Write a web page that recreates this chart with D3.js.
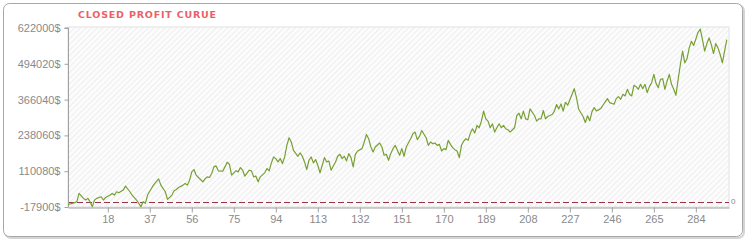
<!DOCTYPE html>
<html>
<head>
<meta charset="utf-8">
<script src="https://cdn.jsdelivr.net/npm/d3@7"></script>
<style>
  body { margin: 0; background: #fff; }
  svg { display: block; }
</style>
</head>
<body>
<div id="chart"></div>
<script>
// trade numbers and closed profit
const tradeNo = [0,2,4,5,7,8,9,10,11,12,13,15,16,17,19,20,21,22,23,25,26,28,29,31,32,33,34,35,36,38,39,41,42,44,45,47,48,49,50,52,53,54,55,56,57,58,59,61,62,63,64,65,66,67,68,70,71,72,73,74,
  76,77,78,79,80,82,83,84,85,86,87,89,90,91,92,93,94,95,96,97,98,99,100,101,102,104,105,106,107,108,109,110,111,112,113,114,115,116,117,118,119,121,122,123,124,125,126,127,128,129,130,131,133,134,135,136,137,138,139,141,142,143,144,145,146,147,148,149,
  150,151,152,153,155,156,157,158,159,160,162,163,164,165,166,167,168,169,170,171,172,173,174,175,176,177,178,179,180,181,182,183,184,185,186,187,188,189,190,191,192,193,194,195,196,197,198,199,200,202,203,204,205,206,207,208,209,211,212,213,214,215,216,217,219,220,221,222,223,224,225,
  226,227,228,229,230,231,233,234,235,236,237,238,239,240,241,242,243,244,245,247,248,249,250,251,252,253,254,255,256,257,258,259,260,261,262,263,264,265,266,267,268,269,270,271,272,273,274,275,276,277,278,279,280,281,282,283,284,285,286,287,288,289,290,291,292,293,294,295,296,297,298];

const closedProfit = [-9000,-4900,1000,30700,12900,7000,12900,1000,-16700,7000,12900,18800,7000,16000,24800,30700,24800,36600,33000,42500,56800,36600,24800,7000,-4900,-16700,1000,-4900,24800,52000,63900,82800,60300,36600,9400,24800,40200,44900,52000,60300,66200,60300,78100,107700,116000,95900,87600,72200,83000,89900,87600,101800,125500,129000,111300,110100,125500,142100,135000,95900,
  112000,107700,123100,113600,92300,113600,111300,89900,92300,72100,89900,104200,119600,111300,139700,161000,155100,143300,155100,137300,161000,202500,229800,214400,184700,163400,175300,163400,143300,116000,149200,161000,139700,151600,131400,104200,131400,158700,143300,146800,113600,143300,163400,170500,155100,163400,146800,172900,158700,125500,170500,182400,190700,214400,241600,226200,196600,178800,196600,210800,196600,167000,170500,149200,172900,190700,202500,184700,
  167000,190700,163400,196600,226200,244000,249900,222700,234500,255800,229800,202500,214400,208400,210800,202500,206100,182400,190700,187100,220300,206100,194200,187100,182400,158700,202500,217900,226200,220300,246400,261800,246400,273600,265300,289000,324600,297300,289000,265300,279500,250000,265300,279500,265300,273600,261800,258200,250000,265300,309200,317500,297300,324600,297300,293800,332900,309200,289000,297300,297300,327000,297300,305600,312700,324600,348300,332900,350600,324600,356600,
  346000,364900,385000,405100,373100,331700,305600,284300,308000,290200,322200,337600,325700,329300,334000,345900,357700,369600,355400,349400,369600,376700,367200,385000,379100,402800,385000,379100,417000,412300,402800,420600,405100,420600,390900,412300,426500,456100,424100,408700,438300,440700,402800,432400,456100,420600,402800,381500,438300,491600,539100,497600,511800,550900,574600,559200,582900,606600,618400,580500,539100,566300,586500,562700,530800,566300,550900,527200,497600,539100,580500];

const yTicks = [-17900, 110080, 238060, 366040, 494020, 622000];
const xTicks = [18, 37, 56, 75, 94, 113, 132, 151, 170, 189, 208, 227, 246, 265, 284];

const width = 748, height = 241;
const plotLeft = 68, plotRight = 729, plotTop = 28, plotBottom = 207;

const svg = d3.select('#chart')
  .append('svg')
  .attr('width', width)
  .attr('height', height);

// hatch pattern for the plot background
const defs = svg.append('defs');
const pat = defs.append('pattern')
  .attr('id', 'hatch')
  .attr('patternUnits', 'userSpaceOnUse')
  .attr('width', 4)
  .attr('height', 4)
  .attr('patternTransform', 'rotate(45)');
pat.append('rect').attr('width', 4).attr('height', 4).attr('fill', '#fcfcfc');
pat.append('line')
  .attr('x1', 0).attr('y1', 0).attr('x2', 0).attr('y2', 4)
  .attr('stroke', '#e6e6e6').attr('stroke-width', 1.2);

// outer frame with a soft shadow
svg.append('rect')
  .attr('x', 5).attr('y', 5).attr('width', 739).attr('height', 233)
  .attr('rx', 6).attr('fill', 'none').attr('stroke', '#d4d4d4').attr('stroke-width', 2);
svg.append('rect')
  .attr('x', 3.5).attr('y', 3.5).attr('width', 739).attr('height', 233)
  .attr('rx', 6).attr('fill', '#fff').attr('stroke', '#a8a8a8');

svg.append('text')
  .attr('x', 78).attr('y', 18)
  .attr('fill', '#ec5f68')
  .attr('font-family', 'DejaVu Sans, Verdana, sans-serif')
  .attr('font-size', '9.5px')
  .attr('font-weight', 'bold')
  .attr('letter-spacing', '0.8px')
  .text('CLOSED PROFIT CURUE');

const x = d3.scaleLinear().domain([0, 299]).range([plotLeft, plotRight]);
const y = d3.scaleLinear().domain([yTicks[0], yTicks[yTicks.length - 1]]).range([plotBottom, plotTop]);

svg.append('rect')
  .attr('x', plotLeft).attr('y', plotTop - 1)
  .attr('width', plotRight - plotLeft).attr('height', plotBottom - plotTop + 1)
  .attr('fill', 'url(#hatch)')
  .attr('stroke', '#e2e2e2');

// zero line
svg.append('line')
  .attr('x1', plotLeft).attr('x2', plotRight)
  .attr('y1', Math.round(y(0)) + 0.5).attr('y2', Math.round(y(0)) + 0.5)
  .attr('stroke', '#9a3346')
  .attr('stroke-dasharray', '6,3');

svg.append('text')
  .attr('x', plotRight + 2).attr('y', y(0) + 2)
  .attr('fill', '#888')
  .attr('font-family', 'Liberation Sans, Arial, sans-serif')
  .attr('font-size', '8px')
  .text('0');

const yAxis = svg.append('g')
  .attr('transform', `translate(${plotLeft + 0.5},0)`)
  .call(d3.axisLeft(y).tickValues(yTicks).tickSize(4).tickPadding(4).tickFormat(d => d + '$'));

const xAxis = svg.append('g')
  .attr('transform', `translate(0,${plotBottom + 0.5})`)
  .call(d3.axisBottom(x).tickValues(xTicks).tickSize(5).tickPadding(3).tickSizeOuter(0));

[yAxis, xAxis].forEach(g => {
  g.select('.domain').attr('stroke', '#a0a0a0');
  g.selectAll('.tick line').attr('stroke', '#a0a0a0');
  g.selectAll('.tick text')
    .attr('fill', '#8a8a8a')
    .attr('font-family', 'Liberation Sans, Arial, sans-serif')
    .attr('font-size', '11px');
});
yAxis.select('.domain').attr('d', `M-4,${plotTop}H0V${plotBottom}`);

const line = d3.line()
  .x((d, i) => x(tradeNo[i]))
  .y(d => y(d));

svg.append('path')
  .datum(closedProfit)
  .attr('fill', 'none')
  .attr('stroke', '#77a034')
  .attr('stroke-width', 1.2)
  .attr('stroke-linejoin', 'round')
  .attr('d', line);
</script>
</body>
</html>
